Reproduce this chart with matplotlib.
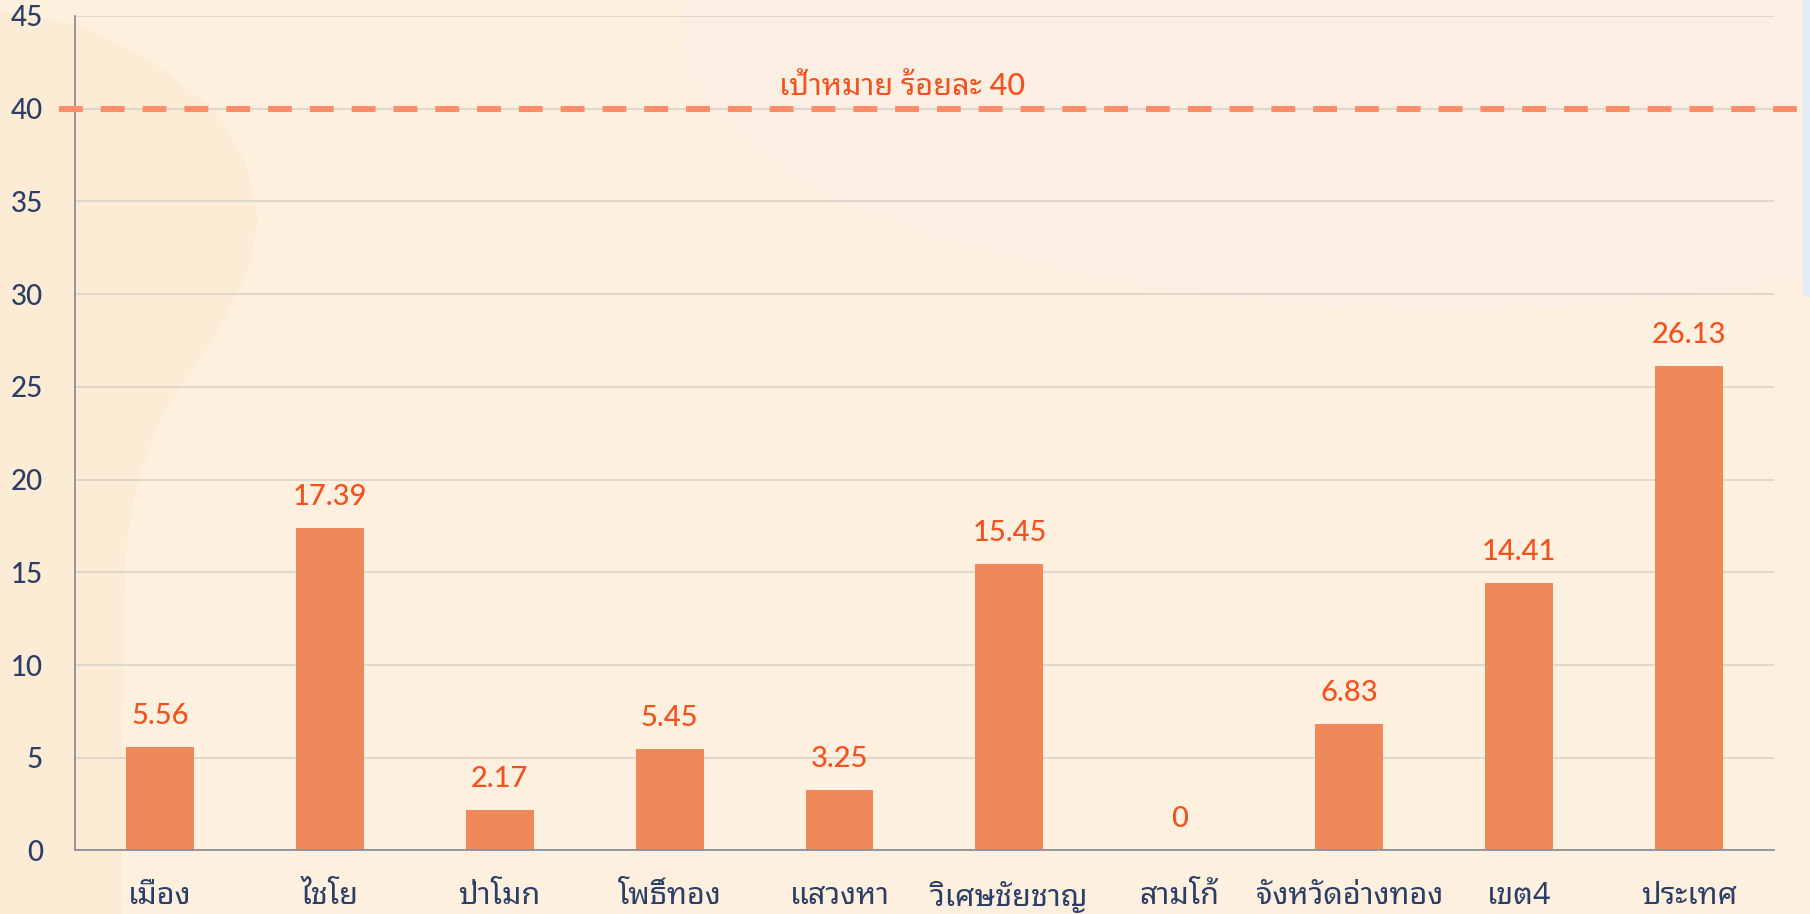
import matplotlib
matplotlib.use("Agg")
import matplotlib.pyplot as plt
from matplotlib.patches import Ellipse, Rectangle, Polygon

# data
districts = ['เมือง', 'ไชโย', 'ป่าโมก', 'โพธิ์ทอง', 'แสวงหา', 'วิเศษชัยชาญ',
             'สามโก้', 'จังหวัดอ่างทอง', 'เขต4', 'ประเทศ']
percent = [5.56, 17.39, 2.17, 5.45, 3.25, 15.45, 0, 6.83, 14.41, 26.13]
target = 40
target_label = 'เป้าหมาย ร้อยละ 40'
yticks = [0, 5, 10, 15, 20, 25, 30, 35, 40, 45]

BG = '#fdf0df'
BAR = '#f0895a'
VALUE = '#f4511e'
DASH = '#ff8c69'
NAVY = '#2c3e66'
GRID = '#ddd5cc'

W, H = 1810, 914
fig = plt.figure(figsize=(W / 100, H / 100), dpi=100, facecolor=BG)

# soft background shapes (pixel outline -> figure fraction)
blob_px = [(0, 0), (0, 12), (80, 25), (150, 60), (215, 110), (245, 160), (258, 216),
           (250, 265), (225, 320), (191, 373), (160, 420), (138, 480), (127, 540),
           (124, 620), (122, 760), (122, 914), (0, 914)]
blob = Polygon([(px / W, 1 - py / H) for px, py in blob_px], closed=True,
               transform=fig.transFigure, facecolor='#fcecd6', edgecolor='none', zorder=0)
fig.patches.append(blob)
fig.patches.append(Ellipse((0.80, 0.97), 0.85, 0.62, transform=fig.transFigure,
                           facecolor='#fbeee2', edgecolor='none', zorder=0))
fig.patches.append(Rectangle((0.9962, 0.675), 0.0038, 0.325, transform=fig.transFigure,
                             facecolor='#e3ecf6', edgecolor='none', zorder=0))

ax = fig.add_axes([0.0414, 0.0695, 0.9387, 0.913])
ax.set_facecolor('none')
ax.set_zorder(2)

x = range(len(districts))
bars = ax.bar(x, percent, width=0.4, color=BAR, zorder=3)

for b, v in zip(bars, percent):
    ax.annotate(f'{v:g}' if v == 0 else f'{v:.2f}',
                (b.get_x() + b.get_width() / 2, v),
                xytext=(0, 13), textcoords='offset points',
                ha='center', va='bottom', fontsize=21, color=VALUE,
                family=['Lato'], fontweight='medium', zorder=4)

# target line
ax.axhline(target, xmin=-0.0094, xmax=1.03, color=DASH, lw=4.3,
           dashes=(4, 3), clip_on=False, zorder=4)
ax.text(0.487, target + 0.45, target_label, transform=ax.get_yaxis_transform(),
        ha='center', va='bottom', fontsize=22, color=VALUE, fontweight='medium',
        family=['Lato', 'Noto Sans Thai Looped'])

ax.set_xlim(-0.5, len(districts) - 0.5)
ax.set_ylim(0, 45)
ax.set_yticks(yticks)
ax.set_xticks(list(x))
ax.set_xticklabels(districts, family=['Noto Sans Thai Looped'], fontstretch='condensed',
                   fontsize=22, fontweight='medium', color=NAVY)
ax.tick_params(axis='y', length=0, pad=23, labelsize=20, labelcolor=NAVY)
ax.tick_params(axis='x', length=0, pad=22)
for lab in ax.get_yticklabels():
    lab.set_family(['Lato'])
    lab.set_fontweight('medium')

ax.yaxis.grid(True, color=GRID, lw=1.3, zorder=1)
ax.set_axisbelow(True)
for side in ['top', 'right']:
    ax.spines[side].set_visible(False)
ax.spines['left'].set_color('#8e8e9c')
ax.spines['left'].set_linewidth(1.3)
ax.spines['bottom'].set_color('#8e8e9c')
ax.spines['bottom'].set_linewidth(1.3)
ax.spines['bottom'].set_zorder(5)

fig.savefig('out.png', dpi=100, facecolor=BG)
